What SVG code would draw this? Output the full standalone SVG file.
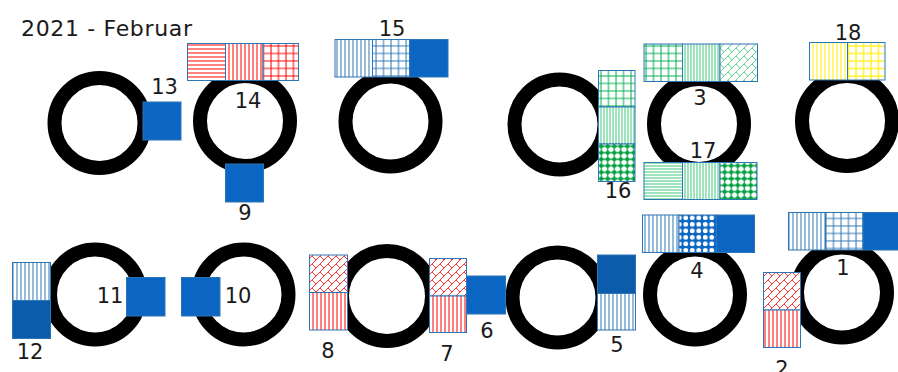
<svg xmlns="http://www.w3.org/2000/svg" width="898" height="372" viewBox="0 0 898 372">
<style>
.ring{fill:none;stroke:#000;stroke-width:14}
.b{stroke:#2E75B6;stroke-width:1}
.solid{fill:#0A66C2}
.dark{fill:#0B5CAB}
.lbl{font-family:"DejaVu Sans","Verdana",sans-serif;font-size:21px;fill:#1a1a1a;text-anchor:middle}
.title{font-family:"DejaVu Sans","Verdana",sans-serif;font-size:22px;fill:#1a1a1a}
</style>
<defs>
<pattern id="vR" width="4" height="4" patternUnits="userSpaceOnUse"><rect width="4" height="4" fill="#fff"/><line x1="1" y1="0" x2="1" y2="4" stroke="#F00" stroke-width="1"/></pattern>
<pattern id="hR" width="4" height="4" patternUnits="userSpaceOnUse"><rect width="4" height="4" fill="#fff"/><line x1="0" y1="1" x2="4" y2="1" stroke="#F00" stroke-width="1"/></pattern>
<pattern id="gR" width="7.5" height="7.5" patternUnits="userSpaceOnUse"><rect width="7.5" height="7.5" fill="#fff"/><path d="M1,0V7.5M0,1H7.5" stroke="#F00" stroke-width="1" fill="none"/></pattern>
<pattern id="dR" width="8" height="8" patternUnits="userSpaceOnUse"><rect width="8" height="8" fill="#fff"/><path d="M0,8L8,0M0,0L4,4" stroke="#F00" stroke-width="0.8" fill="none"/></pattern>
<pattern id="vB" width="4" height="4" patternUnits="userSpaceOnUse"><rect width="4" height="4" fill="#fff"/><line x1="1" y1="0" x2="1" y2="4" stroke="#2E75B6" stroke-width="1"/></pattern>
<pattern id="gB" width="7.5" height="7.5" patternUnits="userSpaceOnUse"><rect width="7.5" height="7.5" fill="#fff"/><path d="M1,0V7.5M0,1H7.5" stroke="#2E75B6" stroke-width="1" fill="none"/></pattern>
<pattern id="dotB" width="6.5" height="6.5" patternUnits="userSpaceOnUse"><rect width="6.5" height="6.5" fill="#0A66C2"/><circle cx="3.25" cy="3.25" r="2.4" fill="#fff"/></pattern>
<pattern id="gG" width="7.5" height="7.5" patternUnits="userSpaceOnUse"><rect width="7.5" height="7.5" fill="#fff"/><path d="M1,0V7.5M0,1H7.5" stroke="#00B050" stroke-width="1" fill="none"/></pattern>
<pattern id="vG" width="3" height="3" patternUnits="userSpaceOnUse"><rect width="3" height="3" fill="#fff"/><line x1="1" y1="0" x2="1" y2="3" stroke="#3CC878" stroke-width="1"/></pattern>
<pattern id="hG" width="3" height="3" patternUnits="userSpaceOnUse"><rect width="3" height="3" fill="#fff"/><line x1="0" y1="1" x2="3" y2="1" stroke="#3CC878" stroke-width="1"/></pattern>
<pattern id="dG" width="8" height="8" patternUnits="userSpaceOnUse"><rect width="8" height="8" fill="#fff"/><path d="M0,8L8,0M0,0L4,4" stroke="#3CC878" stroke-width="0.8" fill="none"/></pattern>
<pattern id="dotG" width="6.5" height="6.5" patternUnits="userSpaceOnUse"><rect width="6.5" height="6.5" fill="#fff"/><path d="M3.25,0V6.5M0,3.25H6.5" stroke="#00A040" stroke-width="1.2"/><circle cx="3.25" cy="3.25" r="2.2" fill="#00A040"/></pattern>
<pattern id="vY" width="4" height="4" patternUnits="userSpaceOnUse"><rect width="4" height="4" fill="#fff"/><line x1="1" y1="0" x2="1" y2="4" stroke="#FFF000" stroke-width="1"/></pattern>
<pattern id="gY" width="7.5" height="7.5" patternUnits="userSpaceOnUse"><rect width="7.5" height="7.5" fill="#fff"/><path d="M1,0V7.5M0,1H7.5" stroke="#FFF000" stroke-width="1.2" fill="none"/></pattern>
</defs>
<rect width="898" height="372" fill="#fff"/>
<text class="title" x="21" y="36" textLength="171" lengthAdjust="spacing">2021 - Februar</text>
<g id="rings">
<circle id="ring1" class="ring" cx="99.5" cy="123" r="45"/>
<circle id="ring2" class="ring" cx="245" cy="121" r="45"/>
<circle id="ring3" class="ring" cx="390.5" cy="121.5" r="45"/>
<circle id="ring4" class="ring" cx="559.5" cy="124.5" r="45"/>
<circle id="ring5" class="ring" cx="699" cy="124" r="45"/>
<circle id="ring6" class="ring" cx="847" cy="121" r="45"/>
<circle id="ring7" class="ring" cx="95" cy="294.5" r="45"/>
<circle id="ring8" class="ring" cx="243.5" cy="294.5" r="45"/>
<circle id="ring9" class="ring" cx="387" cy="296" r="45"/>
<circle id="ring10" class="ring" cx="557.5" cy="297.5" r="45"/>
<circle id="ring11" class="ring" cx="695" cy="294.5" r="45"/>
<circle id="ring12" class="ring" cx="842" cy="292.5" r="45"/>
</g>
<g id="connectors"/>
<g id="n13"><rect class="b solid" x="143" y="102" width="38" height="38"/><text class="lbl" x="164.5" y="93.5">13</text></g>
<g id="n14"><rect class="b" fill="url(#hR)" x="187.5" y="43.5" width="38" height="37"/><rect class="b" fill="url(#vR)" x="225.5" y="43.5" width="37.5" height="37"/><rect class="b" fill="url(#gR)" x="263" y="43.5" width="35.5" height="37"/><text class="lbl" x="248" y="108">14</text></g>
<g id="n9"><rect class="b solid" x="225.5" y="164" width="38" height="38"/><text class="lbl" x="245" y="220">9</text></g>
<g id="n15"><rect class="b" fill="url(#vB)" x="335" y="39.5" width="37.5" height="37.5"/><rect class="b" fill="url(#gB)" x="372.5" y="39.5" width="37" height="37.5"/><rect class="b solid" x="409.5" y="39.5" width="38.5" height="37.5"/><text class="lbl" x="392" y="36">15</text></g>
<g id="n16"><rect class="b" fill="url(#gG)" x="598.5" y="70.5" width="36.5" height="36.5"/><rect class="b" fill="url(#vG)" x="598.5" y="107" width="36.5" height="37"/><rect class="b" fill="url(#dotG)" x="598.5" y="144" width="36.5" height="37.5"/><text class="lbl" x="618" y="198">16</text></g>
<g id="n3"><rect class="b" fill="url(#gG)" x="644" y="44" width="38.5" height="37.5"/><rect class="b" fill="url(#vG)" x="682.5" y="44" width="37.5" height="37.5"/><rect class="b" fill="url(#dG)" x="720" y="44" width="37.5" height="37.5"/><text class="lbl" x="700" y="105">3</text></g>
<g id="n17"><rect class="b" fill="url(#hG)" x="644" y="162.5" width="38.5" height="37"/><rect class="b" fill="url(#vG)" x="682.5" y="162.5" width="37.5" height="37"/><rect class="b" fill="url(#dotG)" x="720" y="162.5" width="37" height="37"/><text class="lbl" x="703" y="158">17</text></g>
<g id="n18"><rect class="b" fill="url(#vY)" x="809.5" y="42.5" width="38" height="37.5"/><rect class="b" fill="url(#gY)" x="847.5" y="42.5" width="37.5" height="37.5"/><text class="lbl" x="848" y="40">18</text></g>
<g id="n12"><rect class="b" fill="url(#vB)" x="12.5" y="262.5" width="38" height="38"/><rect class="b dark" x="12.5" y="300.5" width="38" height="38"/><text class="lbl" x="30" y="359">12</text></g>
<g id="n11"><rect class="b solid" x="126.5" y="277.5" width="38.5" height="38.5"/><text class="lbl" x="110" y="303">11</text></g>
<g id="n10"><rect class="b solid" x="181.5" y="277.5" width="38.5" height="38.5"/><text class="lbl" x="238" y="303">10</text></g>
<g id="n8"><rect class="b" fill="url(#dR)" x="309.5" y="255" width="38" height="37.5"/><rect class="b" fill="url(#vR)" x="309.5" y="292.5" width="38" height="37.5"/><text class="lbl" x="328" y="358">8</text></g>
<g id="n7"><rect class="b" fill="url(#dR)" x="429.5" y="258.5" width="37" height="37.5"/><rect class="b" fill="url(#vR)" x="429.5" y="296" width="37" height="36.5"/><text class="lbl" x="447" y="361">7</text></g>
<g id="n6"><rect class="b solid" x="466.5" y="276" width="39" height="38"/><text class="lbl" x="487" y="338">6</text></g>
<g id="n5"><rect class="b dark" x="597.5" y="255" width="38" height="38.5"/><rect class="b" fill="url(#vB)" x="597.5" y="293.5" width="38" height="36.5"/><text class="lbl" x="617" y="352">5</text></g>
<g id="n4"><rect class="b" fill="url(#vB)" x="642.5" y="215" width="36.5" height="37.5"/><rect class="b" fill="url(#dotB)" x="679" y="215" width="37.5" height="37.5"/><rect class="b solid" x="716.5" y="215" width="38" height="37.5"/><text class="lbl" x="697" y="278">4</text></g>
<g id="n1"><rect class="b" fill="url(#vB)" x="788.5" y="212.5" width="37" height="37.5"/><rect class="b" fill="url(#gB)" x="825.5" y="212.5" width="37.5" height="37.5"/><rect class="b solid" x="863" y="212.5" width="38" height="37.5"/><text class="lbl" x="843" y="275">1</text></g>
<g id="n2"><rect class="b" fill="url(#dR)" x="763.5" y="272.5" width="37" height="37.5"/><rect class="b" fill="url(#vR)" x="763.5" y="310" width="37" height="37.5"/><text class="lbl" x="782" y="376">2</text></g>
</svg>
